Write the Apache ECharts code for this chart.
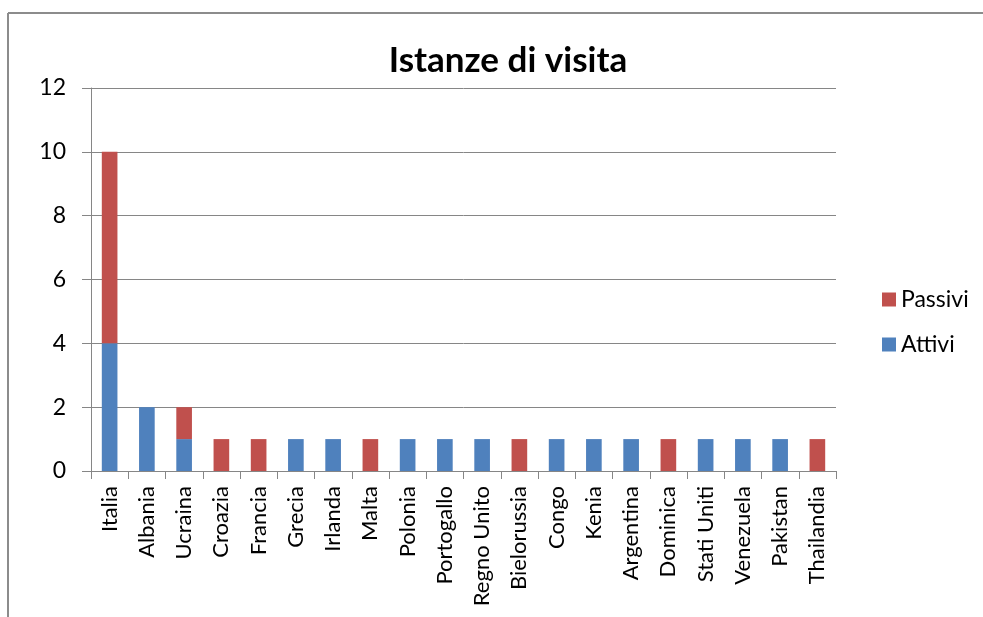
<!DOCTYPE html>
<html>
<head>
<meta charset="utf-8">
<script src="https://cdn.jsdelivr.net/npm/echarts@6/dist/echarts.min.js"></script>
<style>
html, body { margin: 0; padding: 0; background: #fff; }
#chart { width: 983px; height: 617px; }
</style>
</head>
<body>
<div id="chart"></div>
<script>
// dati
var paesi = ['Italia', 'Albania', 'Ucraina', 'Croazia', 'Francia', 'Grecia', 'Irlanda', 'Malta', 'Polonia', 'Portogallo',
    'Regno Unito', 'Bielorussia', 'Congo', 'Kenia', 'Argentina', 'Dominica', 'Stati Uniti', 'Venezuela', 'Pakistan', 'Thailandia'];
var attivi = [4, 2, 1, 0, 0, 1, 1, 0, 1, 1, 1, 0, 1, 1, 1, 0, 1, 1, 1, 0];
var passivi = [6, 0, 1, 1, 1, 0, 0, 1, 0, 0, 0, 1, 0, 0, 0, 1, 0, 0, 0, 1];
var yTicks = [0, 2, 4, 6, 8, 10, 12];

var font = 'Lato, "Open Sans", sans-serif';
var myChart = echarts.init(document.getElementById('chart'));

myChart.setOption({
    animation: false,
    title: {
        text: 'Istanze di visita',
        left: 503,
        textAlign: 'center',
        top: 38,
        textStyle: {fontFamily: font, fontSize: 35, fontWeight: 'bold', color: '#000'}
    },
    legend: {
        orient: 'vertical',
        left: 877,
        top: 283,
        itemGap: 22,
        itemWidth: 14,
        itemHeight: 14,
        icon: 'rect',
        data: ['Passivi', 'Attivi'],
        textStyle: {fontFamily: font, fontSize: 23, color: '#000'}
    },
    grid: {left: 91, top: 88, width: 745, height: 383, containLabel: false},
    graphic: [
        // cornice
        {type: 'line', shape: {x1: 8, y1: 13, x2: 983, y2: 13}, style: {stroke: '#8c8c8c', lineWidth: 2}},
        {type: 'line', shape: {x1: 8, y1: 13, x2: 8, y2: 617}, style: {stroke: '#8c8c8c', lineWidth: 2}}
    ],
    xAxis: {
        type: 'category',
        data: paesi,
        axisLine: {lineStyle: {color: '#868686'}},
        axisTick: {show: true, length: 8, alignWithLabel: false, lineStyle: {color: '#868686'}},
        axisLabel: {rotate: 90, margin: 15, fontFamily: font, fontSize: 22, color: '#000', interval: 0}
    },
    yAxis: {
        type: 'value',
        min: 0,
        max: yTicks[yTicks.length - 1],
        interval: yTicks[1] - yTicks[0],
        axisLine: {show: true, lineStyle: {color: '#868686'}},
        axisTick: {show: true, length: 9, lineStyle: {color: '#868686'}},
        splitLine: {lineStyle: {color: '#868686'}},
        axisLabel: {margin: 25, fontFamily: font, fontSize: 23, color: '#000'}
    },
    series: [
        {name: 'Attivi', type: 'bar', stack: 'tot', data: attivi, barWidth: '42%', itemStyle: {color: '#4f81bd'}},
        {name: 'Passivi', type: 'bar', stack: 'tot', data: passivi, barWidth: '42%', itemStyle: {color: '#c0504d'}}
    ]
});
</script>
</body>
</html>
